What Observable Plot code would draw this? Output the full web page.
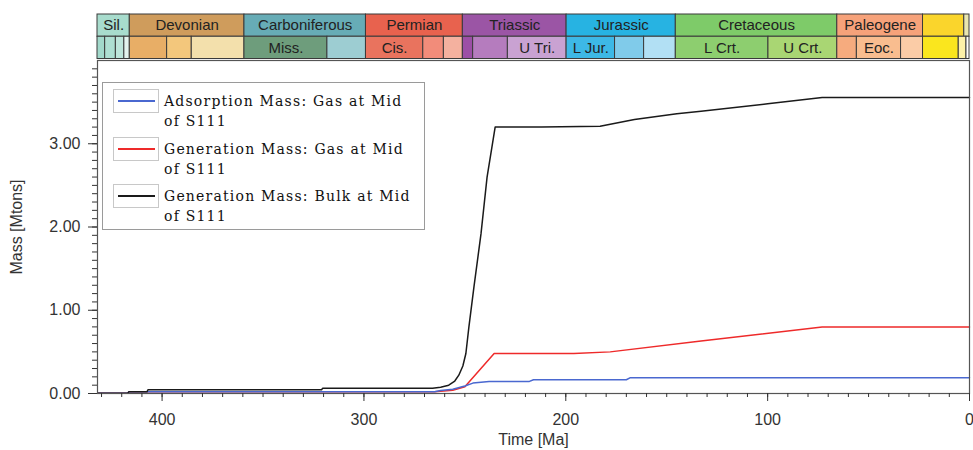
<!DOCTYPE html>
<html>
<head>
<meta charset="utf-8">
<script src="https://cdn.jsdelivr.net/npm/d3@7"></script>
<script src="https://cdn.jsdelivr.net/npm/@observablehq/plot@0.6"></script>
<style>
  body { margin: 0; background: #fff; }
  #wrap { position: relative; width: 973px; height: 450px; overflow: hidden; }
  #wrap svg { position: absolute; left: 0; top: 0; }
  #legend { position: absolute; left: 102px; top: 82px; width: 321px; height: 146px;
            border: 1px solid #9a9a9a; background: #fff; }
  .entry { position: absolute; left: 10px; }
  .sample { position: absolute; left: 0; top: 0; width: 44px; height: 22px; border: 1px solid #c8c8c8; background: #fff; }
  .sample span { position: absolute; left: 4px; top: 10px; width: 37px; height: 2px; display: block; }
  .ltext { position: absolute; left: 51px; top: 2px; width: 265px; font-family: "DejaVu Serif", serif;
           font-size: 14px; letter-spacing: 1.2px; line-height: 20px; color: #111; white-space: nowrap; }
</style>
</head>
<body>
<div id="wrap"></div>
<script>
// ---- Geologic time scale (Ma) ----
const periodNames  = ["Sil.", "Devonian", "Carboniferous", "Permian", "Triassic", "Jurassic", "Cretaceous", "Paleogene", "", ""];
const periodStart  = [443.7, 416, 359.2, 299, 251, 199.6, 145.5, 65.5, 23.03, 2.588];
const periodEnd    = [416, 359.2, 299, 251, 199.6, 145.5, 65.5, 23.03, 2.588, 0];
const periodColors = ["#a8dccd", "#cf9c5c", "#67acb6", "#e8624e", "#9b55a5", "#27b3e2", "#7ecb69", "#f6a27a", "#fad52c", "#e9e6b0"];

const epochNames  = ["", "", "", "", "", "", "", "Miss.", "", "Cis.", "", "", "", "", "U Tri.", "L Jur.", "", "", "L Crt.", "U Crt.", "", "Eoc.", "", "", "", ""];
const epochStart  = [443.7, 428.2, 422.9, 418.7, 416, 397.5, 385.3, 359.2, 318.1, 299, 270.6, 260.4, 251, 245.9, 228.7, 199.6, 175.6, 161.2, 145.5, 99.6, 65.5, 55.8, 33.9, 23.03, 5.332, 1.5];
const epochEnd    = [428.2, 422.9, 418.7, 416, 397.5, 385.3, 359.2, 318.1, 299, 270.6, 260.4, 251, 245.9, 228.7, 199.6, 175.6, 161.2, 145.5, 99.6, 65.5, 55.8, 33.9, 23.03, 5.332, 1.5, 0];
const epochColors = ["#a2d9cb", "#aedfd2", "#bde5da", "#e4f3ee", "#e8ae66", "#f3c77c", "#f3e0ac", "#6e9d7c", "#9dcdd2",
                     "#e9735e", "#f28c7a", "#f4b19f", "#9c4fa6", "#b57cbe", "#c9a2d2", "#3db8e6", "#80cbea", "#b2e0f4",
                     "#8dce6f", "#a9d673", "#f6ab7e", "#f9bd8f", "#fbcca7", "#fae61e", "#fdf1a8", "#ffffff"];

// ---- Series (time in Ma, mass in Mtons) ----
const adsorptionTime = [432, 417, 416.5, 265, 262, 256, 250, 246, 238, 218, 216, 170, 168, 0];
const adsorptionMass = [0.003, 0.003, 0.02, 0.02, 0.035, 0.05, 0.09, 0.125, 0.145, 0.145, 0.165, 0.165, 0.19, 0.19];

const genGasTime = [432, 417, 416.5, 265, 256, 250, 235.5, 196, 178, 133, 73, 0];
const genGasMass = [0.003, 0.003, 0.02, 0.02, 0.04, 0.08, 0.48, 0.48, 0.5, 0.63, 0.80, 0.80];

const bulkTime = [432, 417, 416.5, 407.5, 407, 321, 320.5, 266, 262, 258, 255, 253, 251, 249.5, 248, 245.5, 242, 239, 235, 212, 183, 166, 145, 133, 100, 73, 0];
const bulkMass = [0.003, 0.003, 0.02, 0.02, 0.045, 0.045, 0.062, 0.062, 0.075, 0.1, 0.15, 0.22, 0.33, 0.48, 0.8, 1.28, 1.92, 2.6, 3.2, 3.2, 3.21, 3.29, 3.36, 3.39, 3.48, 3.555, 3.555];

const seriesNames = ["Adsorption Mass: Gas at Mid of S111", "Generation Mass: Gas at Mid of S111", "Generation Mass: Bulk at Mid of S111"];
const seriesColors = ["#4a68d0", "#ee2a2a", "#1a1a1a"];

const xTicks = [400, 300, 200, 100, 0];
const yTicks = [0, 1, 2, 3];

// ---- build tables ----
const X0 = 432;
const periods = periodNames.map((n, i) => ({name: n, start: Math.min(periodStart[i], X0), end: periodEnd[i], color: periodColors[i]}));
const epochs = epochNames.map((n, i) => ({name: n, start: Math.min(epochStart[i], X0), end: epochEnd[i], color: epochColors[i]}));
const mk = (t, m) => t.map((d, i) => ({t: d, m: m[i]}));
const ads = mk(adsorptionTime, adsorptionMass);
const gas = mk(genGasTime, genGasMass);
const bulk = mk(bulkTime, bulkMass);

const W = 973, ML = 97, MR = 4;
const font = "'Liberation Sans', Arial, sans-serif";

const main = Plot.plot({
  width: W, height: 450,
  marginLeft: ML, marginRight: MR, marginTop: 60, marginBottom: 57,
  style: {fontFamily: font, fontSize: "16px", background: "transparent", color: "#333"},
  x: {domain: [X0, 0]},
  y: {domain: [0, 4]},
  marks: [
    Plot.line(gas, {x: "t", y: "m", stroke: seriesColors[1], strokeWidth: 1.5}),
    Plot.line(ads, {x: "t", y: "m", stroke: seriesColors[0], strokeWidth: 1.5}),
    Plot.line(bulk, {x: "t", y: "m", stroke: seriesColors[2], strokeWidth: 1.5}),
    Plot.frame({stroke: "#555", strokeWidth: 1.2}),
    Plot.axisY(d3.range(0, 40).map(d => d / 10), {tickSize: 5, tickFormat: () => "", label: null, stroke: "#333"}),
    Plot.axisY(yTicks, {tickSize: 9, tickPadding: 8, tickFormat: d3.format(".2f"), fontSize: 16, fill: "#333", stroke: "#333",
      label: "Mass [Mtons]", labelAnchor: "center", labelArrow: "none", labelOffset: 87}),
    Plot.axisX(d3.range(0, 431, 10), {tickSize: 4, tickFormat: () => "", label: null, stroke: "#333"}),
    Plot.axisX(xTicks, {tickSize: 8, tickPadding: 12, fontSize: 16, fill: "#333", stroke: "#333",
      label: "Time [Ma]", labelAnchor: "center", labelArrow: "none", labelOffset: 51})
  ]
});

const bar = Plot.plot({
  width: W, height: 60,
  marginLeft: ML, marginRight: MR, marginTop: 0, marginBottom: 0,
  style: {fontFamily: font, background: "transparent"},
  x: {domain: [X0, 0], axis: null},
  y: {domain: [0, 2], range: [58.5, 14], axis: null},
  color: {type: "identity"},
  marks: [
    Plot.rect(periods, {x1: "start", x2: "end", y1: 1, y2: 2, fill: "color", stroke: "#3a3a3a", strokeWidth: 1}),
    Plot.rect(epochs, {x1: "start", x2: "end", y1: 0, y2: 1, fill: "color", stroke: "#3a3a3a", strokeWidth: 1}),
    Plot.text(periods, {x: d => (d.start + d.end) / 2, y: 1.5, text: "name", fontSize: 15, fill: "#222"}),
    Plot.text(epochs, {x: d => (d.start + d.end) / 2, y: 0.5, text: "name", fontSize: 15, fill: "#222"})
  ]
});

const wrap = document.getElementById("wrap");
wrap.appendChild(main);
wrap.appendChild(bar);

// legend
const leg = document.createElement("div");
leg.id = "legend";
seriesNames.forEach((name, i) => {
  const e = document.createElement("div");
  e.className = "entry";
  e.style.top = (6 + i * 47.5) + "px";
  const s = document.createElement("div");
  s.className = "sample";
  const ln = document.createElement("span");
  ln.style.background = seriesColors[i];
  s.appendChild(ln);
  const t = document.createElement("div");
  t.className = "ltext";
  const cut = name.lastIndexOf(" of ");
  t.appendChild(document.createTextNode(name.slice(0, cut)));
  t.appendChild(document.createElement("br"));
  t.appendChild(document.createTextNode(name.slice(cut + 1)));
  e.appendChild(s);
  e.appendChild(t);
  leg.appendChild(e);
});
wrap.appendChild(leg);
</script>
</body>
</html>
